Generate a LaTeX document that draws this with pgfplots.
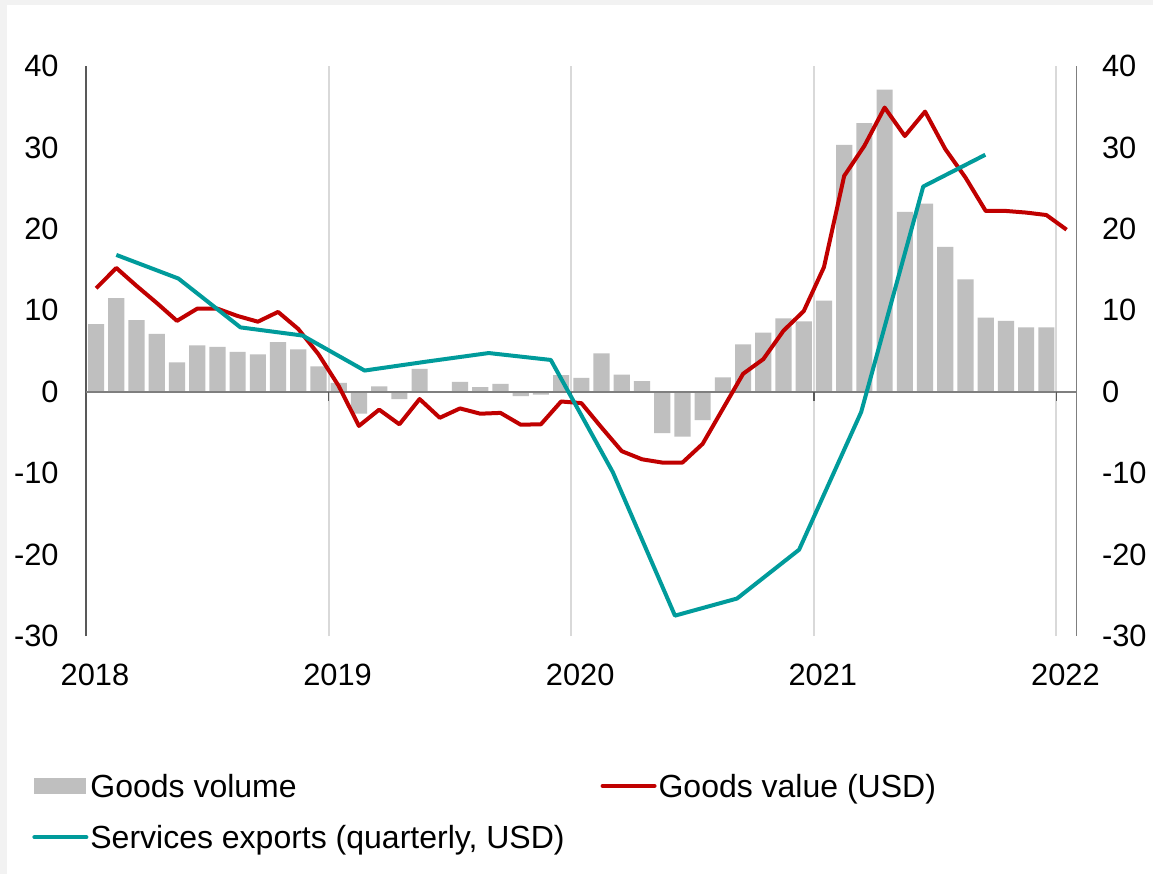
\documentclass[border=0pt]{standalone}
\usepackage{pgfplots}
\pgfplotsset{compat=1.18}
\usepackage{fontspec}
\setmainfont{Liberation Sans}
\definecolor{cbar}{HTML}{BFBFBF}
\definecolor{cred}{HTML}{C00000}
\definecolor{cteal}{HTML}{009B9B}
\definecolor{cgrid}{HTML}{D9D9D9}
\definecolor{caxis}{HTML}{595959}
\definecolor{czero}{HTML}{7F7F7F}
\definecolor{cframe}{HTML}{F2F2F2}
\newcommand{\chartfont}{\fontsize{15.4}{18}\selectfont}
\newcommand{\legfont}{\fontsize{16}{19}\selectfont}
\begin{document}
\begin{tikzpicture}
\fill[cframe] (0,0) rectangle (576.5pt,437pt);
\fill[white] (3.5pt,0) rectangle (576.5pt,434.5pt);
\useasboundingbox (0,0) rectangle (576.5pt,437pt);
\begin{axis}[
  at={(43pt,119pt)}, anchor=south west,
  scale only axis, width=495.35pt, height=285pt,
  xmin=0, xmax=49, ymin=-30, ymax=40,
  axis y line*=left, axis x line*=bottom,
  x axis line style={draw=none},
  y axis line style={draw=caxis, line width=0.7pt},
  /pgf/number format/assume math mode=true,
  ytick={-30,-20,-10,0,10,20,30,40},
  ytick style={draw=none},
  yticklabel style={anchor=east, inner sep=0pt, xshift=-13.5pt, font=\chartfont},
  xtick={0,12,24,36,48},
  xticklabels={2018,2019,2020,2021,2022},
  xtick style={draw=none},
  xticklabel style={anchor=center, inner sep=0pt, xshift=4.5pt, yshift=-19.5pt, font=\chartfont},
  xmajorgrids, major grid style={draw=cgrid, line width=1pt},
  legend columns=2,
  legend cell align=left,
  legend style={at={(axis description cs:-0.0606,-0.2315)}, anchor=north west,
    draw=none, fill=none, font=\legfont, row sep=10.5pt,
    nodes={inner xsep=1pt, inner ysep=1pt},
    /tikz/every even column/.append style={column sep=17pt}},
]
\addplot[ybar, bar width=0.8, fill=cbar, draw=none,
  legend image code/.code={\fill[cbar] (0pt,-3.5pt) rectangle (26pt,4.5pt);}]
  coordinates {
  (0.5,8.3) (1.5,11.5) (2.5,8.8) (3.5,7.1) (4.5,3.6) (5.5,5.7) (6.5,5.5) (7.5,4.9) (8.5,4.6) (9.5,6.1) (10.5,5.2) (11.5,3.1)
  (12.5,1.1) (13.5,-2.7) (14.5,0.65) (15.5,-0.9) (16.5,2.8) (17.5,0) (18.5,1.2) (19.5,0.55) (20.5,0.95) (21.5,-0.55) (22.5,-0.35) (23.5,2.05)
  (24.5,1.7) (25.5,4.7) (26.5,2.1) (27.5,1.3) (28.5,-5.1) (29.5,-5.5) (30.5,-3.5) (31.5,1.75) (32.5,5.8) (33.5,7.25) (34.5,9.0) (35.5,8.65)
  (36.5,11.2) (37.5,30.3) (38.5,33.0) (39.5,37.1) (40.5,22.1) (41.5,23.1) (42.5,17.8) (43.5,13.8) (44.5,9.1) (45.5,8.7) (46.5,7.9) (47.5,7.9)
  };
\addlegendentry{Goods volume}
\draw[czero, line width=1pt] (axis cs:0,0) -- (axis cs:49,0);
\pgfplotsinvokeforeach{12,24,36,48}{\draw[caxis, line width=0.7pt] (axis cs:#1,0) -- ([yshift=-4.5pt]axis cs:#1,0);}
\addplot[cred, line width=2pt, line join=round,
  legend image code/.code={\draw[cred, line width=2pt, line cap=round] (0pt,0.75pt) -- (26pt,0.75pt);}]
  coordinates {
  (0.5,12.7) (1.5,15.2) (2.5,13.0) (3.5,10.9) (4.5,8.7) (5.5,10.2) (6.5,10.2) (7.5,9.3) (8.5,8.6) (9.5,9.8) (10.5,7.7) (11.5,4.6)
  (12.5,0.7) (13.5,-4.2) (14.5,-2.2) (15.5,-4.0) (16.5,-0.9) (17.5,-3.2) (18.5,-2.05) (19.5,-2.7) (20.5,-2.6) (21.5,-4.05) (22.5,-4.0) (23.5,-1.2)
  (24.5,-1.4) (25.5,-4.4) (26.5,-7.3) (27.5,-8.3) (28.5,-8.7) (29.5,-8.7) (30.5,-6.4) (31.5,-2.1) (32.5,2.2) (33.5,4.0) (34.5,7.5) (35.5,9.9)
  (36.5,15.3) (37.5,26.5) (38.5,30.2) (39.5,34.9) (40.5,31.4) (41.5,34.4) (42.5,29.8) (43.5,26.3) (44.5,22.2) (45.5,22.2) (46.5,22.0) (47.5,21.7)
  (48.5,19.9)
  };
\addlegendentry{Goods value (USD)}
\addplot[cteal, line width=2pt, line join=round,
  legend image code/.code={\draw[cteal, line width=2pt, line cap=round] (0pt,0.75pt) -- (26pt,0.75pt);}]
  coordinates {
  (1.5,16.8) (4.57,13.9) (7.64,7.9) (10.71,6.9) (13.78,2.6) (16.85,3.7) (19.92,4.75) (22.99,3.9)
  (26.06,-9.9) (29.13,-27.5) (32.2,-25.4) (35.27,-19.4) (38.34,-2.5) (41.41,25.2) (44.48,29.1)
  };
\addlegendentry{Services exports (quarterly, USD)}
\end{axis}
\begin{axis}[
  at={(43pt,119pt)}, anchor=south west,
  scale only axis, width=495.35pt, height=285pt,
  xmin=0, xmax=49, ymin=-30, ymax=40,
  axis y line*=right, axis x line=none,
  y axis line style={draw=czero, line width=0.7pt},
  /pgf/number format/assume math mode=true,
  ytick={-30,-20,-10,0,10,20,30,40},
  ytick style={draw=none},
  yticklabel style={anchor=west, inner sep=0pt, xshift=12.5pt, font=\chartfont},
]
\addplot[draw=none] coordinates {(0,0)};
\end{axis}
\end{tikzpicture}
\end{document}
